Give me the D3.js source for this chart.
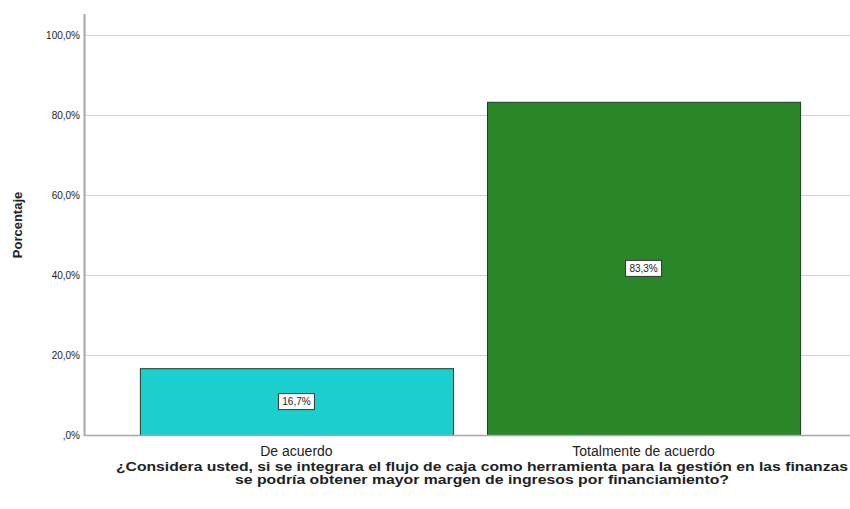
<!DOCTYPE html>
<html>
<head>
<meta charset="utf-8">
<script src="https://cdn.jsdelivr.net/npm/d3@7"></script>
<style>
  body { margin: 0; background: #fff; }
  text { font-family: Arial, "Liberation Sans", sans-serif; fill: #222; }
</style>
</head>
<body>
<div id="chart"></div>
<script>
"use strict";

var categories = ["De acuerdo", "Totalmente de acuerdo"];
var values = [16.7, 83.3];
var colors = ["#1ccfcf", "#2a8729"];
var yTicks = [0, 20, 40, 60, 80, 100];
var yTitle = "Porcentaje";
var xTitle = ["¿Considera usted, si se integrara el flujo de caja como herramienta para la gestión en las finanzas",
              "se podría obtener mayor margen de ingresos por financiamiento?"];

var width = 850, height = 509;
var svg = d3.select("#chart").append("svg").attr("width", width).attr("height", height);

var x = d3.scaleBand().domain(categories).range([84, 856]).paddingInner(0.098).paddingOuter(0.161);
var y = d3.scaleLinear().domain([0, 100]).range([435, 35]);

function fmt(v) { return (v === 0 ? "" : d3.format(".1f")(v).replace(".", ",").replace(/^0/, "")) + "%"; }

// grid
svg.append("g").selectAll("line").data(yTicks.filter(function (d) { return d > 0; })).enter().append("line")
    .attr("x1", 85).attr("x2", 850)
    .attr("y1", function (d) { return y(d) + 0.5; }).attr("y2", function (d) { return y(d) + 0.5; })
    .attr("stroke", "#cfcfcf").attr("stroke-width", 1);

// y tick labels
svg.append("g").selectAll("text").data(yTicks).enter().append("text")
    .attr("x", 80).attr("y", function (d) { return y(d); }).attr("dy", "0.35em")
    .attr("text-anchor", "end").style("font-size", "10px")
    .text(function (d) { return d === 0 ? ",0%" : fmt(d); });

// bars
svg.append("g").selectAll("rect").data(values).enter().append("rect")
    .attr("x", function (d, i) { return x(categories[i]) + 0.5; })
    .attr("y", function (d) { return y(d) + 0.5; })
    .attr("width", x.bandwidth())
    .attr("height", function (d) { return y(0) - y(d); })
    .attr("fill", function (d, i) { return colors[i]; })
    .attr("stroke", "#1e3a1e").attr("stroke-width", 1);

// axes lines
svg.append("line").attr("x1", 84).attr("x2", 850).attr("y1", 435.5).attr("y2", 435.5)
    .attr("stroke", "#a8a8a8").attr("stroke-width", 1.5);
svg.append("line").attr("x1", 84.5).attr("x2", 84.5).attr("y1", 14).attr("y2", 436)
    .attr("stroke", "#a8a8a8").attr("stroke-width", 2);

// value labels
var lab = svg.append("g").selectAll("g").data(values).enter().append("g")
    .attr("transform", function (d, i) {
        return "translate(" + (x(categories[i]) + x.bandwidth() / 2) + "," + y(d / 2) + ")";
    });
lab.append("rect").attr("x", -18).attr("y", -8).attr("width", 36).attr("height", 16)
    .attr("fill", "#fff").attr("stroke", "#333").attr("stroke-width", 1);
lab.append("text").attr("text-anchor", "middle").attr("dy", "0.35em").style("font-size", "10px")
    .text(function (d) { return fmt(d); });

// category labels
svg.append("g").selectAll("text").data(categories).enter().append("text")
    .attr("x", function (d) { return x(d) + x.bandwidth() / 2; }).attr("y", 456)
    .attr("text-anchor", "middle").style("font-size", "14px")
    .text(function (d) { return d; });

// titles
svg.append("text").attr("transform", "translate(22,225) rotate(-90)")
    .attr("text-anchor", "middle").style("font-size", "13px").style("font-weight", "bold")
    .text(yTitle);
svg.append("g").selectAll("text").data(xTitle).enter().append("text")
    .attr("x", 482).attr("y", function (d, i) { return 471 + i * 12.5; })
    .attr("text-anchor", "middle").style("font-size", "12.5px").style("font-weight", "bold")
    .attr("lengthAdjust", "spacingAndGlyphs")
    .attr("textLength", function (d, i) { return i === 0 ? 732 : 494; })
    .text(function (d) { return d; });
</script>
</body>
</html>
